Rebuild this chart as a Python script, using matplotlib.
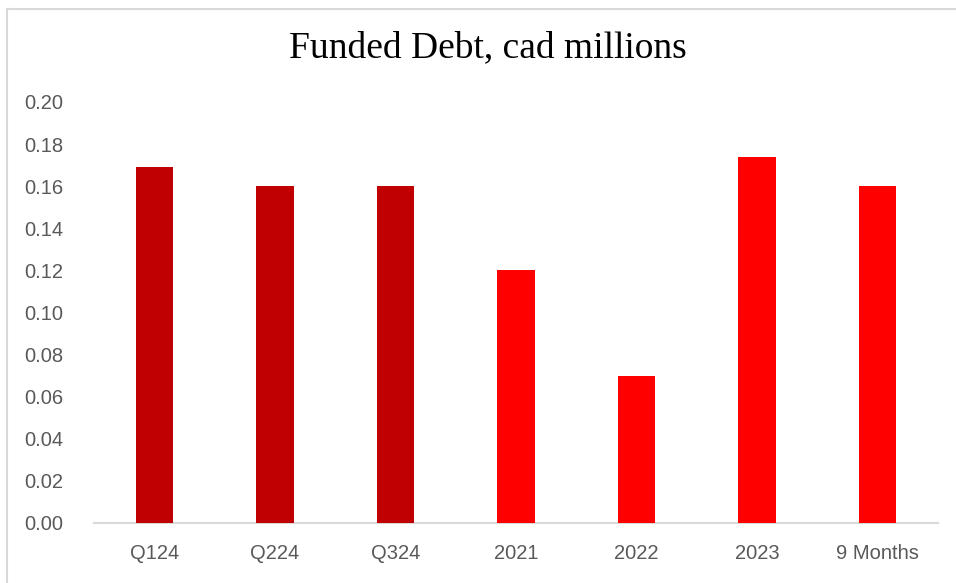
import matplotlib
matplotlib.use("Agg")
import matplotlib.pyplot as plt
from matplotlib.lines import Line2D

categories = ["Q124", "Q224", "Q324", "2021", "2022", "2023", "9 Months"]
values = [0.169, 0.16, 0.16, 0.12, 0.07, 0.174, 0.16]
colors = ["#C00000", "#C00000", "#C00000", "#FF0000", "#FF0000", "#FF0000", "#FF0000"]
yticks = [0.00, 0.02, 0.04, 0.06, 0.08, 0.10, 0.12, 0.14, 0.16, 0.18, 0.20]

W, H = 956, 583
fig = plt.figure(figsize=(W / 100, H / 100), dpi=100)
fig.patch.set_facecolor("white")

ax = fig.add_axes([94 / W, (H - 523) / H, (938 - 94) / W, (523 - 102) / H])
x = list(range(len(categories)))
ax.bar(x, values, width=0.31, color=colors, zorder=3)
ax.set_xlim(-0.5, len(categories) - 0.5)
ax.set_ylim(0, 0.20)
ax.set_yticks(yticks)
ax.set_yticklabels([f"{v:.2f}" for v in yticks])
ax.set_xticks(x)
ax.set_xticklabels(categories)

for s in ["top", "right", "left"]:
    ax.spines[s].set_visible(False)
ax.spines["bottom"].set_color("#D9D9D9")
ax.spines["bottom"].set_linewidth(1.5)
ax.tick_params(axis="both", length=0, colors="#595959", labelsize=14.5)
ax.tick_params(axis="y", pad=22)
ax.tick_params(axis="x", pad=15)
for lbl in ax.get_xticklabels() + ax.get_yticklabels():
    lbl.set_fontfamily("Liberation Sans")
    lbl.set_color("#595959")

fig.text(487.5 / W, (H - 48) / H, "Funded Debt, cad millions", ha="center", va="center",
         fontsize=27, family="Liberation Serif", color="black")

# chart-area border (top and left visible)
fig.add_artist(Line2D([6.5 / W, 1.0], [(H - 8.5) / H, (H - 8.5) / H],
                      color="#D9D9D9", linewidth=1.5, transform=fig.transFigure))
fig.add_artist(Line2D([6.5 / W, 6.5 / W], [0, (H - 8.5) / H],
                      color="#D9D9D9", linewidth=1.5, transform=fig.transFigure))

fig.savefig("out.png", dpi=100, facecolor="white")
